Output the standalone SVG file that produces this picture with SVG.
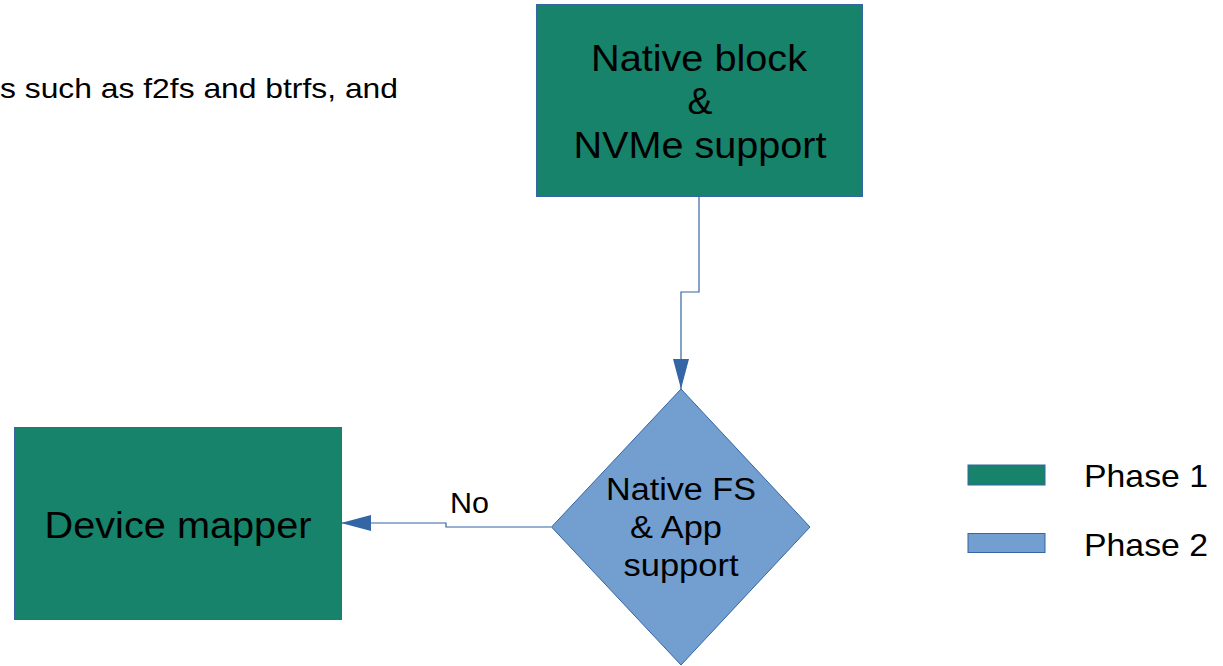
<svg xmlns="http://www.w3.org/2000/svg" width="1223" height="666" viewBox="0 0 1223 666">
<style>
text{font-family:"Liberation Sans",Arial,sans-serif;fill:#000}
.p1{fill:#17836a;stroke:#3465a4;stroke-width:1}
.p2{fill:#729fcf;stroke:#3465a4;stroke-width:1}
.c{fill:none;stroke:#3465a4;stroke-width:1.2}
</style>
<defs>
<marker id="ah" viewBox="0 0 30 16" refX="30" refY="8" markerWidth="30" markerHeight="16" markerUnits="userSpaceOnUse" orient="auto">
<path d="M0,0 L30,8 L0,16 Z" fill="#3465a4"/>
</marker>
</defs>
<rect width="1223" height="666" fill="#fff"/>
<text x="398" y="98" font-size="28" text-anchor="end" textLength="398" lengthAdjust="spacingAndGlyphs">s such as f2fs and btrfs, and</text>
<g id="connectors">
<path class="c" d="M699,196 V292 H681 V389" marker-end="url(#ah)"/>
<path class="c" d="M551,527 H446 V523 H341" marker-end="url(#ah)"/>
<text x="450" y="513" font-size="30" textLength="39" lengthAdjust="spacingAndGlyphs">No</text>
</g>
<g id="native-block">
<rect class="p1" x="536.5" y="4.5" width="326" height="192"/>
<text x="699" y="71" font-size="37.5" text-anchor="middle" textLength="216" lengthAdjust="spacingAndGlyphs">Native block</text>
<text x="700" y="114" font-size="37.5" text-anchor="middle">&amp;</text>
<text x="700" y="158" font-size="37.5" text-anchor="middle" textLength="253" lengthAdjust="spacingAndGlyphs">NVMe support</text>
</g>
<g id="native-fs">
<path class="p2" d="M681,389 L810,527 L681,665 L551.5,527 Z"/>
<text x="681" y="500" font-size="31" text-anchor="middle" textLength="150" lengthAdjust="spacingAndGlyphs">Native FS</text>
<text x="676" y="538" font-size="31" text-anchor="middle" textLength="92" lengthAdjust="spacingAndGlyphs">&amp; App</text>
<text x="681" y="576" font-size="31" text-anchor="middle" textLength="115" lengthAdjust="spacingAndGlyphs">support</text>
</g>
<g id="device-mapper">
<rect class="p1" x="14.5" y="427.5" width="327" height="192"/>
<text x="178" y="538" font-size="36" text-anchor="middle" textLength="267" lengthAdjust="spacingAndGlyphs">Device mapper</text>
</g>
<g id="legend-phase1">
<rect class="p1" x="968" y="465" width="77" height="20"/>
<text x="1084" y="487" font-size="32" textLength="124" lengthAdjust="spacingAndGlyphs">Phase 1</text>
</g>
<g id="legend-phase2">
<rect class="p2" x="968" y="533.5" width="77" height="19"/>
<text x="1084" y="556" font-size="32" textLength="124" lengthAdjust="spacingAndGlyphs">Phase 2</text>
</g>
</svg>
